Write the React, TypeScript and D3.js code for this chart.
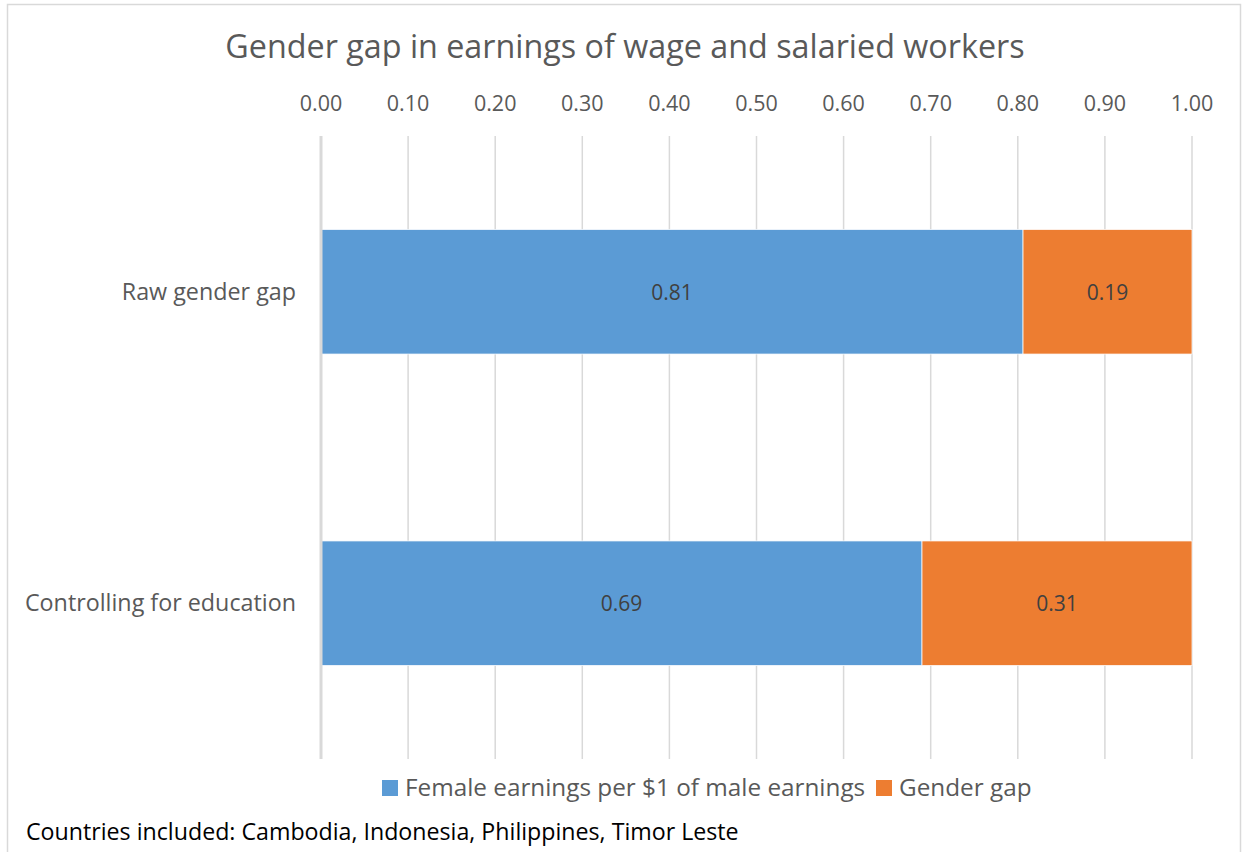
import * as d3 from 'd3';
import React, { useEffect, useRef } from 'react';

const categories = ['Raw gender gap', 'Controlling for education'];
const femaleEarnings = [0.806, 0.69];
const genderGap = [0.194, 0.31];
const seriesNames = ['Female earnings per $1 of male earnings', 'Gender gap'];
const seriesColors = ['#5b9bd5', '#ed7d31'];
const tickValues = [0, 0.1, 0.2, 0.3, 0.4, 0.5, 0.6, 0.7, 0.8, 0.9, 1.0];

const FONT = '"Open Sans", sans-serif';

function App() {
  const ref = useRef<SVGSVGElement>(null);

  useEffect(() => {
    const svg = d3.select(ref.current);
    svg.selectAll('*').remove();

    svg.append('rect')
      .attr('x', 7.5).attr('y', 4.5)
      .attr('width', 1233).attr('height', 900)
      .attr('fill', '#fff').attr('stroke', '#d9d9d9').attr('stroke-width', 1.5);

    const x = d3.scaleLinear().domain([0, 1]).range([321, 1192]);
    const y = d3.scaleBand().domain(categories).range([136, 759]).padding(0);
    const barH = y.bandwidth() * 0.4;

    // title
    svg.append('text')
      .attr('x', 625).attr('y', 58)
      .attr('text-anchor', 'middle')
      .attr('font-family', FONT).attr('font-size', 32.3)
      .attr('fill', '#595959')
      .text('Gender gap in earnings of wage and salaried workers');

    // gridlines
    svg.append('g').selectAll('line')
      .data(tickValues.slice(1))
      .enter().append('line')
      .attr('x1', d => x(d)).attr('x2', d => x(d))
      .attr('y1', 136).attr('y2', 759)
      .attr('stroke', '#d9d9d9').attr('stroke-width', 1.5);

    // tick labels
    svg.append('g').selectAll('text')
      .data(tickValues)
      .enter().append('text')
      .attr('x', d => x(d)).attr('y', 111)
      .attr('text-anchor', 'middle')
      .attr('font-family', FONT).attr('font-size', 21.5)
      .attr('fill', '#595959')
      .text(d => d3.format('.2f')(d));

    // stacked bars
    const rows = categories.map((c, i) => ({ c, a: femaleEarnings[i], b: genderGap[i] }));
    const g = svg.append('g');
    rows.forEach(r => {
      const y0 = (y(r.c) as number) + (y.bandwidth() - barH) / 2;
      const segs = [
        { x0: 0, x1: r.a, v: r.a, col: seriesColors[0] },
        { x0: r.a, x1: r.a + r.b, v: r.b, col: seriesColors[1] },
      ];
      segs.forEach(s => {
        g.append('rect')
          .attr('x', x(s.x0)).attr('y', y0)
          .attr('width', x(s.x1) - x(s.x0)).attr('height', barH)
          .attr('fill', s.col)
          .attr('stroke', '#fff').attr('stroke-width', 0.75);
        g.append('text')
          .attr('x', (x(s.x0) + x(s.x1)) / 2).attr('y', y0 + barH / 2 + 8)
          .attr('text-anchor', 'middle')
          .attr('font-family', FONT).attr('font-size', 21)
          .attr('fill', '#404040')
          .text(d3.format('.2f')(s.v));
      });
      svg.append('text')
        .attr('x', 296).attr('y', (y(r.c) as number) + y.bandwidth() / 2 + 8)
        .attr('text-anchor', 'end')
        .attr('font-family', FONT).attr('font-size', 23.3)
        .attr('fill', '#595959')
        .text(r.c);
    });

    // axis line at zero
    svg.append('line')
      .attr('x1', x(0)).attr('x2', x(0))
      .attr('y1', 136).attr('y2', 759)
      .attr('stroke', '#d9d9d9').attr('stroke-width', 3);

    // legend
    const legendX = [382, 876];
    seriesNames.forEach((n, i) => {
      svg.append('rect')
        .attr('x', legendX[i]).attr('y', 780)
        .attr('width', 16).attr('height', 16)
        .attr('fill', seriesColors[i]);
      svg.append('text')
        .attr('x', legendX[i] + 23).attr('y', 796)
        .attr('font-family', FONT).attr('font-size', 24.3)
        .attr('fill', '#595959')
        .text(n);
    });

    // note
    svg.append('text')
      .attr('x', 26).attr('y', 840)
      .attr('font-family', FONT).attr('font-size', 23.2)
      .attr('fill', '#000')
      .text('Countries included: Cambodia, Indonesia, Philippines, Timor Leste');
  }, []);

  return (
    <div style={{ position: 'absolute', left: 0, top: 0, background: '#fff' }}>
      <svg ref={ref} width={1244} height={852} style={{ display: 'block' }} />
    </div>
  );
}

export default App;
